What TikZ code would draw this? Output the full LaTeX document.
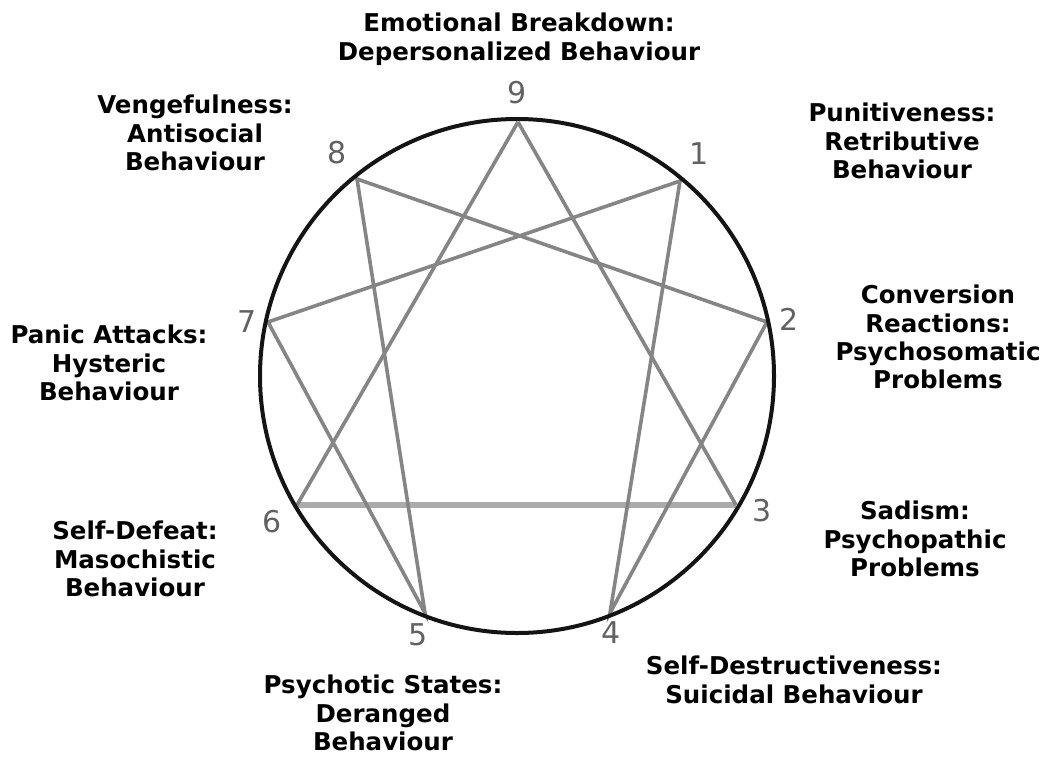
\documentclass[tikz,border=0pt]{standalone}
\usepackage{fontspec}
\setmainfont{DejaVu Sans}
\begin{document}
\begin{tikzpicture}[x=1pt,y=-1pt,
  lbl/.style={anchor=north,inner sep=0pt,align=center,font=\bfseries\fontsize{24.5}{28.2}\selectfont},
  num/.style={inner sep=0pt,text=black!62,font=\fontsize{30}{30}\selectfont},
  hexline/.style={draw=black!48,line width=3.6pt},
  baseline3/.style={draw=black!33,line width=5.5pt},
  ring/.style={draw=black!92,line width=4pt}]
\useasboundingbox (0,0) rectangle (1051,757);
% vertices
\coordinate (v9) at (518,122);
\coordinate (v1) at (680,181);
\coordinate (v2) at (767,322);
\coordinate (v3) at (736,505);
\coordinate (v4) at (610,613);
\coordinate (v5) at (425,613);
\coordinate (v6) at (297,505);
\coordinate (v7) at (268,322);
\coordinate (v8) at (357,179);
\coordinate (c) at (517,376);
% inner lines
\draw[baseline3] (v6) -- (v3);
\draw[hexline] (v9) -- (v3);
\draw[hexline] (v9) -- (v6);
\draw[hexline] (v1) -- (v4) -- (v2) -- (v8) -- (v5) -- (v7) -- cycle;
% circle
\draw[ring] (c) circle[radius=257];
% numbers
\node[num] (n9) at (517,93) {9};
\node[num] (n1) at (699,154) {1};
\node[num] (n2) at (789,319) {2};
\node[num] (n3) at (762,511) {3};
\node[num] (n4) at (611,633) {4};
\node[num] (n5) at (418,635) {5};
\node[num] (n6) at (272,522) {6};
\node[num] (n7) at (247,322) {7};
\node[num] (n8) at (337,153) {8};
% labels
\node[lbl] (l9) at (519,13) {Emotional Breakdown:\\Depersonalized Behaviour};
\node[lbl] (l8) at (195,95) {Vengefulness:\\Antisocial\\Behaviour};
\node[lbl] (l1) at (902,103) {Punitiveness:\\Retributive\\Behaviour};
\node[lbl] (l2) at (938,285) {Conversion\\Reactions:\\Psychosomatic\\Problems};
\node[lbl] (l7) at (109,325) {Panic Attacks:\\Hysteric\\Behaviour};
\node[lbl] (l3) at (915,501) {Sadism:\\Psychopathic\\Problems};
\node[lbl] (l6) at (135,521) {Self-Defeat:\\Masochistic\\Behaviour};
\node[lbl] (l5) at (383,675) {Psychotic States:\\Deranged\\Behaviour};
\node[lbl] (l4) at (794,656) {Self-Destructiveness:\\Suicidal Behaviour};
\end{tikzpicture}
\end{document}
